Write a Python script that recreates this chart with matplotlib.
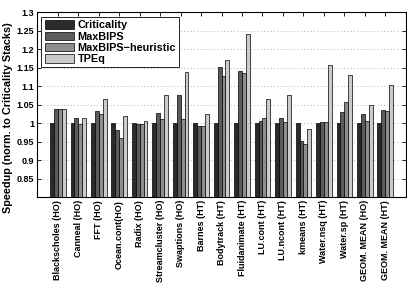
import matplotlib
matplotlib.use("Agg")
import matplotlib.pyplot as plt
import numpy as np

categories = ["Blackscholes (HO)", "Canneal (HO)", "FFT (HO)", "Ocean.cont(HO)",
              "Radix (HO)", "Streamcluster (HO)", "Swaptions (HO)", "Barnes (HT)",
              "Bodytrack (HT)", "Fluidanimate (HT)", "LU.cont (HT)", "LU.ncont (HT)",
              "kmeans (HT)", "Water.nsq (HT)", "Water.sp (HT)", "GEOM. MEAN (HO)",
              "GEOM. MEAN (HT)"]
series_names = ["Criticality", "MaxBIPS", "MaxBIPS\u2212heuristic", "TPEq"]
criticality = [1.0] * 17
maxbips = [1.037, 1.0135, 1.032, 0.981, 0.997, 1.027, 1.076, 0.993, 1.153,
           1.1405, 1.005, 1.015, 0.951, 1.0035, 1.029, 1.024, 1.036]
maxbips_heur = [1.039, 0.998, 1.024, 0.960, 0.997, 1.012, 1.012, 0.993, 1.127,
                1.135, 1.014, 1.004, 0.943, 1.0035, 1.058, 1.005, 1.033]
tpeq = [1.037, 1.0135, 1.066, 1.020, 1.005, 1.076, 1.139, 1.025, 1.170,
        1.240, 1.065, 1.077, 0.983, 1.156, 1.129, 1.050, 1.103]
yticks = [0.85, 0.9, 0.95, 1, 1.05, 1.1, 1.15, 1.2, 1.25, 1.3]
ytick_labels = ["0.85", "0.9", "0.95", "1", "1.05", "1.1", "1.15", "1.2", "1.25", "1.3"]

colors = ["#2b2b2b", "#5c5c5c", "#8e8e8e", "#cbcbcb"]
font = "Liberation Sans"

fig = plt.figure(figsize=(4.07, 2.89), dpi=100)
ax = fig.add_axes([0.0909, 0.318, 0.906, 0.640])

x = np.arange(1, len(categories) + 1)
w = 0.19
data = [criticality, maxbips, maxbips_heur, tpeq]
for k, (vals, c, name) in enumerate(zip(data, colors, series_names)):
    ax.bar(x + (k - 1.5) * w, vals, width=w, color=c, edgecolor="black",
           linewidth=0.5, label=name, zorder=3)

ax.set_xlim(-0.02, 18.0)
ax.set_ylim(0.8, 1.3)
ax.set_yticks(yticks)
ax.set_yticklabels(ytick_labels, fontsize=6.5, fontweight="bold", family=font)
ax.set_xticks(x)
ax.set_xticklabels(categories, rotation=90, fontsize=6.5, fontweight="bold", family=font)
ax.tick_params(direction="in", length=3, width=0.6, top=True, right=True, pad=2)
ax.yaxis.grid(True, linestyle=(0, (1, 3)), color="#999999", linewidth=0.6, zorder=0)
ax.set_axisbelow(True)
for s in ax.spines.values():
    s.set_linewidth(0.8)

ax.set_ylabel("Speedup (norm. to Criticality Stacks)", fontsize=7.8,
              fontweight="bold", family=font, labelpad=3)
ax.yaxis.set_label_coords(-0.064, 0.43)

leg = ax.legend(loc="upper left", bbox_to_anchor=(0.006, 0.985),
                prop={"family": font, "weight": "bold", "size": 7.8},
                fancybox=False, edgecolor="black", framealpha=1,
                handlelength=2.7, handleheight=0.8, borderpad=0.3,
                labelspacing=0.12, handletextpad=0.35, borderaxespad=0.2)
leg.get_frame().set_linewidth(0.6)

fig.savefig("out.png", dpi=100)
